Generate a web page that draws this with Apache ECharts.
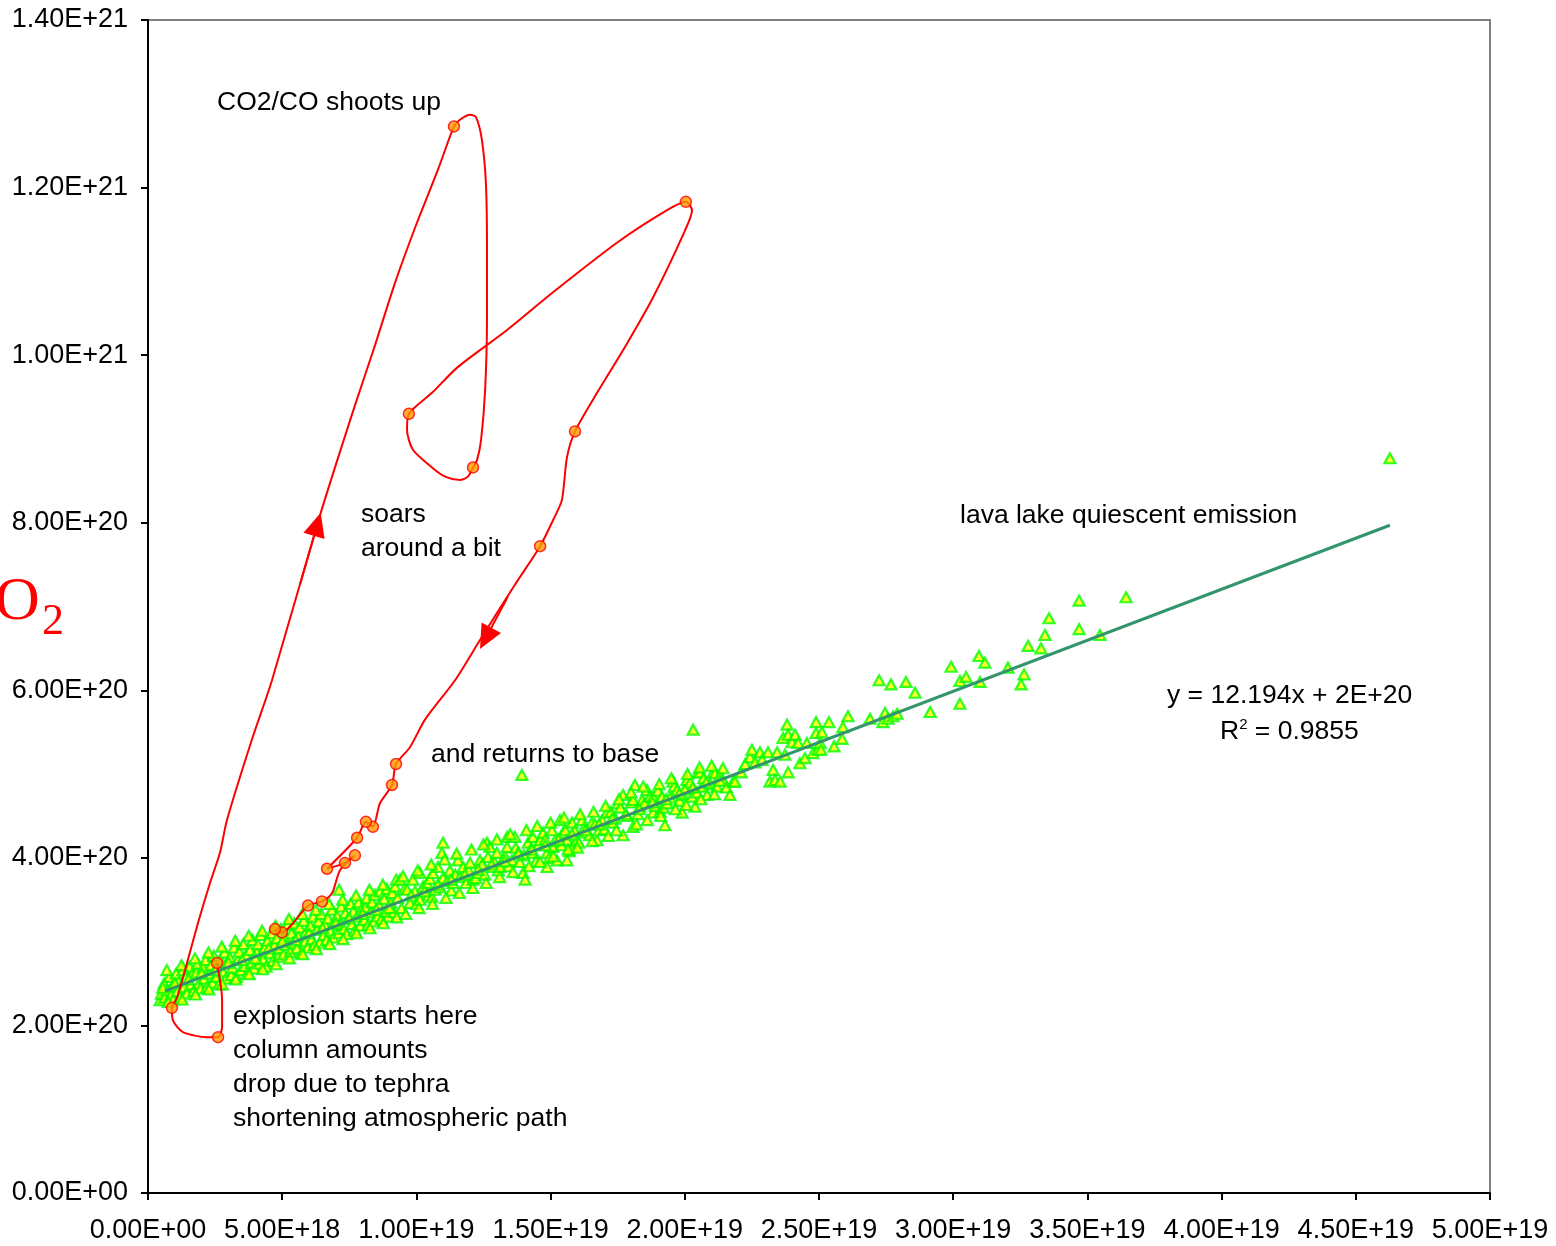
<!DOCTYPE html>
<html>
<head>
<meta charset="utf-8">
<script src="https://cdn.jsdelivr.net/npm/echarts@6/dist/echarts.min.js"></script>
<style>
  html, body { margin: 0; padding: 0; background: #fff; }
  #main { width: 1556px; height: 1246px; }
</style>
</head>
<body>
<div id="main"></div>
<script>
// x values in units of 1E+18, y values in units of 1E+20

// lava lake quiescent emission, dense part near the origin
var lavaLow = [
  [0.45, 2.30], [0.50, 2.38], [0.60, 2.50], [0.62, 2.33], [0.70, 2.42],
  [0.80, 2.58], [0.85, 2.36], [0.90, 2.47], [0.95, 2.31], [1.05, 2.62],
  [1.10, 2.41], [1.15, 2.52], [1.20, 2.34], [1.30, 2.66], [1.35, 2.46],
  [1.40, 2.57], [1.45, 2.38], [1.55, 2.70], [1.60, 2.49], [1.65, 2.61],
  [1.70, 2.41], [1.80, 2.63], [1.85, 2.74], [1.90, 2.50], [1.95, 2.44],
  [2.05, 2.69], [2.10, 2.56], [2.15, 2.78], [2.20, 2.46], [2.30, 2.62],
  [2.35, 2.72], [2.40, 2.51], [2.45, 2.83], [2.55, 2.58], [2.60, 2.70],
  [2.65, 2.49], [2.70, 2.79], [2.80, 2.64], [2.85, 2.87], [2.90, 2.56],
  [2.95, 2.74], [3.05, 2.81], [3.10, 2.60], [3.15, 2.69], [3.20, 2.93],
  [3.30, 2.58], [3.35, 2.78], [3.40, 2.88], [3.45, 2.66], [3.55, 2.97],
  [3.60, 2.71], [3.65, 2.84], [3.70, 2.62], [3.80, 2.90], [3.85, 2.75],
  [3.90, 3.02], [3.95, 2.68], [4.05, 2.87], [4.10, 2.97], [4.15, 2.74],
  [4.20, 3.08], [4.30, 2.79], [4.35, 2.93], [4.40, 2.70], [4.45, 3.01],
  [4.55, 2.86], [4.60, 3.10], [4.65, 2.77], [4.70, 2.96], [4.80, 3.04],
  [4.85, 2.82], [4.90, 2.92], [4.95, 3.15], [5.05, 2.85], [5.10, 3.05],
  [5.15, 2.96], [5.20, 3.20], [5.30, 2.88], [5.35, 3.10], [5.40, 2.99],
  [5.45, 3.22], [5.55, 2.92], [5.60, 3.06], [5.65, 3.17], [5.70, 2.86],
  [5.80, 3.25], [5.85, 3.00], [5.90, 3.12], [5.95, 2.93], [6.05, 3.19],
  [6.10, 3.03], [6.15, 3.30], [6.20, 2.96], [6.30, 3.14], [6.35, 3.24],
  [6.40, 2.99], [6.45, 3.33], [6.55, 3.08], [6.60, 3.20], [6.65, 3.02],
  [6.70, 3.28], [6.80, 3.13], [6.85, 3.38], [6.90, 3.05], [6.95, 3.24],
  [7.05, 3.31], [7.10, 3.10], [7.12, 3.62], [7.15, 3.20], [7.20, 3.42],
  [7.30, 3.15], [7.35, 3.34], [7.40, 3.09], [7.45, 3.27], [7.55, 3.45],
  [7.60, 3.21], [7.65, 3.36], [7.70, 3.13], [7.80, 3.30], [7.85, 3.47],
  [7.90, 3.19], [7.95, 3.38], [8.05, 3.26], [8.10, 3.41], [8.15, 3.52],
  [8.20, 3.20], [8.30, 3.35], [8.35, 3.47], [8.40, 3.24], [8.45, 3.56],
  [8.55, 3.30], [8.60, 3.44], [8.65, 3.60], [8.70, 3.27], [8.80, 3.51],
  [8.85, 3.36], [8.90, 3.63], [8.95, 3.30], [9.05, 3.46], [9.10, 3.58],
  [9.15, 3.35], [9.20, 3.66]
];

// more of the same band: its upper and lower edges and centre
var lavaLowEdge = [
  [0.70, 2.66], [0.75, 2.28], [1.25, 2.72], [1.27, 2.31], [1.75, 2.80],
  [1.77, 2.37], [2.25, 2.87], [2.27, 2.43], [2.75, 2.94], [2.77, 2.49],
  [3.25, 3.01], [3.27, 2.55], [3.75, 3.07], [3.77, 2.61], [4.25, 3.13],
  [4.27, 2.67], [4.75, 3.19], [4.77, 2.73], [5.25, 3.27], [5.27, 2.80],
  [5.75, 3.33], [5.77, 2.85], [6.25, 3.38], [6.27, 2.91], [6.75, 3.45],
  [6.77, 2.97], [7.25, 3.50], [7.27, 3.03], [7.75, 3.55], [7.77, 3.10],
  [8.25, 3.62], [8.27, 3.16], [8.75, 3.68], [8.77, 3.22], [9.25, 3.74],
  [9.27, 3.29], [0.55, 2.45], [1.00, 2.50], [1.50, 2.55], [2.00, 2.62],
  [2.50, 2.66], [3.00, 2.75], [3.50, 2.78], [4.00, 2.80], [4.50, 2.92],
  [5.00, 3.00], [5.50, 3.02], [6.00, 3.10], [6.50, 3.16], [7.00, 3.22],
  [7.50, 3.28], [8.00, 3.33], [8.50, 3.38], [9.00, 3.40]
];

// dense band, middle part
var lavaMid = [
  [9.30, 3.52], [9.39, 3.74], [9.45, 3.40], [9.55, 3.63], [9.65, 3.62],
  [9.76, 3.46], [9.87, 3.74], [9.95, 3.60], [10.00, 3.45], [10.13, 3.82],
  [10.13, 3.50], [10.25, 3.66], [10.39, 3.70], [10.45, 3.55], [10.50, 3.75],
  [10.58, 3.53], [10.62, 3.82], [10.70, 3.62], [10.80, 3.89], [10.88, 3.65],
  [10.95, 4.06], [10.99, 4.18], [10.99, 3.76], [11.15, 3.72], [11.25, 3.85],
  [11.30, 3.61], [11.36, 3.70], [11.45, 3.80], [11.55, 3.97], [11.62, 3.77],
  [11.74, 3.89], [11.85, 3.70], [11.95, 3.85], [12.00, 3.94], [12.11, 3.74],
  [12.20, 3.76], [12.30, 3.82], [12.37, 3.97], [12.45, 3.92], [12.55, 3.80],
  [12.63, 4.18], [12.67, 4.01], [12.74, 4.13], [12.85, 3.89], [12.90, 3.95],
  [13.00, 4.06], [13.05, 3.85], [13.11, 3.89], [13.23, 3.97], [13.30, 4.02],
  [13.38, 4.13], [13.38, 4.25], [13.45, 3.90], [13.56, 3.97], [13.67, 4.25],
  [13.70, 4.12], [13.79, 4.06], [13.85, 3.95], [13.93, 4.99], [13.97, 3.82],
  [14.00, 4.03], [14.05, 3.74], [14.16, 4.18], [14.25, 4.10], [14.34, 4.06],
  [14.34, 4.25], [14.45, 3.96], [14.55, 4.15], [14.61, 4.21], [14.72, 4.30],
  [14.80, 4.22], [14.87, 4.06], [14.87, 3.89], [14.95, 4.00], [15.05, 4.33],
  [15.09, 4.13], [15.15, 4.20], [15.24, 3.97], [15.35, 4.45], [15.40, 4.15],
  [15.46, 4.30], [15.55, 4.33], [15.61, 3.97], [15.61, 4.21], [15.70, 4.08],
  [15.80, 4.42], [15.83, 4.13], [15.90, 4.32], [15.98, 4.21], [16.05, 4.18],
  [16.17, 4.45], [16.25, 4.36], [16.36, 4.30], [16.45, 4.27], [16.54, 4.42],
  [16.65, 4.40], [16.73, 4.21], [16.80, 4.33], [16.92, 4.45], [17.00, 4.34],
  [17.10, 4.54], [17.25, 4.55], [17.32, 4.42], [17.40, 4.47], [17.51, 4.65],
  [17.60, 4.60], [17.70, 4.75], [17.70, 4.27], [17.85, 4.50], [18.00, 4.66],
  [18.07, 4.37], [18.07, 4.69], [18.14, 4.87], [18.25, 4.52], [18.33, 4.61],
  [18.41, 4.69], [18.50, 4.65], [18.59, 4.81], [18.70, 4.73], [18.82, 4.54],
  [18.82, 4.73], [18.90, 4.62], [19.00, 4.80], [19.08, 4.55], [19.15, 4.73],
  [19.20, 4.60], [19.26, 4.39], [19.34, 4.65], [19.45, 4.72], [19.56, 4.91],
  [19.60, 4.85], [19.71, 4.81], [19.80, 4.68], [19.90, 4.54], [19.93, 4.75],
  [20.00, 4.82], [20.08, 4.93], [20.20, 4.90], [20.27, 4.73], [20.31, 5.53],
  [20.38, 4.61], [20.45, 4.78], [20.49, 5.02], [20.57, 5.02], [20.64, 4.85],
  [20.70, 4.95], [20.83, 4.75], [20.95, 4.88], [21.05, 5.02], [21.13, 5.01],
  [21.20, 4.85], [21.30, 4.98], [21.42, 4.93], [21.42, 5.07], [21.55, 4.84],
  [21.68, 4.75], [21.80, 4.91], [21.87, 4.91]
];

// more of the middle band: edges and centre
var lavaMidEdge = [
  [9.50, 3.78], [9.60, 3.33], [10.05, 3.85], [10.10, 3.40], [10.55, 3.92],
  [10.60, 3.45], [11.05, 3.98], [11.10, 3.52], [11.50, 4.05], [11.60, 3.58],
  [12.05, 4.10], [12.10, 3.64], [12.50, 4.16], [12.60, 3.70], [13.00, 4.22],
  [13.10, 3.77], [13.50, 4.28], [13.60, 3.83], [14.10, 4.33], [14.20, 3.90],
  [14.50, 4.38], [14.60, 3.95], [15.00, 4.42], [15.10, 4.02], [15.50, 4.48],
  [15.65, 4.10], [16.10, 4.52], [16.00, 4.12], [16.60, 4.55], [16.55, 4.20],
  [17.05, 4.62], [17.15, 4.26], [17.55, 4.70], [17.45, 4.33], [18.00, 4.78],
  [18.20, 4.40], [18.45, 4.85], [18.60, 4.45], [19.05, 4.88], [19.10, 4.50],
  [19.50, 4.95], [19.65, 4.58], [20.10, 5.00], [20.05, 4.63], [20.55, 5.08],
  [20.60, 4.70], [21.00, 5.10], [21.10, 4.76], [9.80, 3.55], [10.30, 3.60],
  [10.80, 3.68], [11.30, 3.74], [11.80, 3.80], [12.30, 3.86], [12.80, 3.92],
  [13.30, 3.96], [13.80, 4.05], [14.30, 4.10], [14.80, 4.15], [15.30, 4.22],
  [15.80, 4.28], [16.30, 4.33], [16.80, 4.40], [17.30, 4.47], [17.80, 4.52],
  [18.30, 4.58], [18.80, 4.66], [19.30, 4.70], [19.80, 4.77], [20.30, 4.84],
  [20.80, 4.90], [21.30, 4.92]
];

// scattered points further out
var lavaHigh = [
  [22.10, 5.02], [22.25, 5.12], [22.43, 5.20], [22.50, 5.29], [22.62, 5.14],
  [22.80, 5.26], [22.88, 5.17], [23.10, 5.26], [23.17, 4.91], [23.29, 5.05],
  [23.36, 4.93], [23.44, 5.26], [23.55, 4.91], [23.66, 5.43], [23.73, 5.23],
  [23.81, 5.59], [23.85, 5.47], [23.85, 5.02], [23.99, 5.38], [24.11, 5.47],
  [24.22, 5.37], [24.29, 5.13], [24.48, 5.19], [24.55, 5.37], [24.78, 5.25],
  [24.89, 5.62], [24.89, 5.49], [24.96, 5.29], [25.04, 5.37], [25.07, 5.29],
  [25.11, 5.50], [25.37, 5.62], [25.56, 5.33], [25.86, 5.42], [25.89, 5.56],
  [26.08, 5.69], [26.90, 5.66], [27.24, 6.12], [27.38, 5.62], [27.46, 5.73],
  [27.57, 5.66], [27.68, 6.07], [27.76, 5.69], [27.91, 5.72], [28.24, 6.10],
  [28.58, 5.97], [29.14, 5.74], [29.92, 6.28], [30.25, 6.11], [30.25, 5.84],
  [30.48, 6.16], [30.96, 6.41], [31.00, 6.10], [31.18, 6.33], [32.04, 6.27],
  [32.53, 6.07], [32.64, 6.19], [32.79, 6.53], [33.27, 6.50], [33.42, 6.66],
  [33.57, 6.86], [34.69, 7.07], [34.69, 6.73], [35.47, 6.66], [36.44, 7.11],
  [46.27, 8.77]
];

// linear fit, drawn between its two ends
var trendX = [0.63, 46.27];
var trendY = [2.41, 7.97];

// red path of the explosion
var pathX = [2.57, 2.76, 2.76, 2.61, 2.20, 1.30, 0.93, 0.89, 1.08, 1.38,
  1.86, 2.31, 2.68, 2.94, 3.87, 4.62, 6.41, 7.71, 8.46, 9.20,
  10.02, 10.80, 11.40, 11.62, 12.00, 12.22, 12.44, 12.59, 12.63, 12.63,
  12.56, 12.41, 12.26, 12.11, 11.92, 11.62, 11.07, 10.58, 9.87, 9.65,
  9.72, 10.58, 11.55, 13.38, 15.09, 17.51, 19.34, 20.04, 20.27, 20.01,
  18.82, 17.85, 16.73, 15.91, 15.61, 15.42, 15.09, 14.61, 13.67, 12.37,
  11.44, 10.32, 9.76, 9.24, 9.09, 8.64, 8.38, 8.12, 7.79, 6.67,
  7.34, 7.71, 7.15, 6.86, 6.48, 5.96, 4.99, 4.73];
var pathY = [2.745, 2.30, 1.98, 1.86, 1.86, 1.92, 2.06, 2.21, 2.33, 2.66,
  3.22, 3.70, 4.06, 4.45, 5.41, 6.12, 8.09, 9.40, 10.12, 10.86,
  11.58, 12.21, 12.73, 12.81, 12.87, 12.84, 12.57, 12.05, 11.25, 10.45,
  9.58, 8.99, 8.75, 8.66, 8.55, 8.51, 8.55, 8.66, 8.87, 9.11,
  9.30, 9.55, 9.86, 10.30, 10.75, 11.35, 11.73, 11.83, 11.73, 11.49,
  10.69, 10.14, 9.55, 9.09, 8.78, 8.27, 8.03, 7.72, 7.26, 6.60,
  6.12, 5.65, 5.32, 5.12, 4.87, 4.65, 4.37, 4.43, 4.24, 3.87,
  3.94, 4.03, 3.85, 3.58, 3.48, 3.43, 3.11, 3.15];

// orange markers on the path
var markX = [2.57, 2.61, 0.89, 11.40, 12.11, 9.72, 20.04, 15.91, 14.61, 9.24,
  9.09, 8.38, 8.12, 7.79, 7.71, 7.34, 6.67, 6.48, 5.96, 4.99, 4.73];
var markY = [2.745, 1.86, 2.21, 12.73, 8.66, 9.30, 11.83, 9.09, 7.72, 5.12,
  4.87, 4.37, 4.43, 4.24, 4.03, 3.94, 3.87, 3.48, 3.43, 3.11, 3.15];

// direction arrows: [from, to]
var arrows = [
  [[5.66, 7.26], [6.31, 7.98]],
  [[13.41, 7.12], [12.58, 6.62]]
];

var font = "'Liberation Sans', Arial, sans-serif";
var noteFont = "26.5px " + font;

function fmtE(v) {
  var s = v.toExponential(2).toUpperCase().split("E");
  var exp = s[1];
  var sign = exp.charAt(0);
  var digits = exp.slice(1);
  if (digits.length < 2) digits = "0" + digits;
  return s[0] + "E" + sign + digits;
}

function zip(xs, ys) {
  return xs.map(function (x, i) { return [x, ys[i]]; });
}

var chartDom = document.getElementById("main");
var myChart = echarts.init(chartDom);
var option;

option = {
  animation: false,
  backgroundColor: "#fff",
  grid: {
    left: 148,
    right: 66,
    top: 20,
    bottom: 53,
    show: true,
    borderColor: "#808080",
    borderWidth: 2
  },
  xAxis: {
    type: "value",
    min: 0,
    max: 50,
    interval: 5,
    axisLine: { lineStyle: { color: "#000", width: 2 } },
    axisTick: { length: 7, lineStyle: { color: "#000", width: 2 } },
    splitLine: { show: false },
    axisLabel: {
      margin: 24,
      color: "#000",
      fontSize: 27,
      fontFamily: font,
      formatter: function (v) { return fmtE(v * 1e18); }
    }
  },
  yAxis: {
    type: "value",
    min: 0,
    max: 14,
    interval: 2,
    axisLine: { lineStyle: { color: "#000", width: 2 } },
    axisTick: { length: 7, lineStyle: { color: "#000", width: 2 } },
    splitLine: { show: false },
    axisLabel: {
      margin: 20,
      color: "#000",
      fontSize: 27,
      fontFamily: font,
      formatter: function (v) { return fmtE(v * 1e20); }
    }
  },
  series: [
    {
      name: "lava lake",
      type: "scatter",
      symbol: "triangle",
      symbolSize: [11, 10],
      itemStyle: { color: "#FFFF00", borderColor: "#00FF00", borderWidth: 2.2 },
      data: lavaLow.concat(lavaLowEdge, lavaMid, lavaMidEdge, lavaHigh),
      z: 2
    },
    {
      name: "trend",
      type: "line",
      showSymbol: false,
      lineStyle: { color: "#33956b", width: 3 },
      data: zip(trendX, trendY),
      z: 3
    },
    {
      name: "explosion",
      type: "line",
      smooth: 0.25,
      showSymbol: false,
      lineStyle: { color: "#FF0000", width: 2 },
      data: zip(pathX, pathY),
      markLine: {
        silent: true,
        symbol: ["none", "triangle"],
        symbolSize: [22, 24],
        label: { show: false },
        lineStyle: { color: "#FF0000", width: 2, type: "solid" },
        data: arrows.map(function (a) {
          return [{ coord: a[0] }, { coord: a[1] }];
        })
      },
      z: 4
    },
    {
      name: "markers",
      type: "scatter",
      symbol: "circle",
      symbolSize: 11,
      itemStyle: { color: "#FF9900", borderColor: "#FF0000", borderWidth: 1.5 },
      data: zip(markX, markY),
      z: 5
    }
  ],
  graphic: [
    { type: "text", left: 217, top: 89, style: { text: "CO2/CO shoots up", font: noteFont, fill: "#000" } },
    { type: "text", left: 361, top: 498, style: { text: "soars\naround a bit", font: noteFont, lineHeight: 34, fill: "#000" } },
    { type: "text", left: 431, top: 741, style: { text: "and returns to base", font: noteFont, fill: "#000" } },
    { type: "text", left: 960, top: 502, style: { text: "lava lake quiescent emission", font: noteFont, fill: "#000" } },
    { type: "text", left: 1167, top: 682, style: { text: "y = 12.194x + 2E+20", font: noteFont, fill: "#000" } },
    {
      type: "text", left: 1220, top: 717,
      style: {
        text: "{a|R}{b|2}{a| = 0.9855}",
        rich: {
          a: { fontSize: 26.5, fontFamily: font, lineHeight: 30, color: "#000" },
          b: { fontSize: 15, fontFamily: font, lineHeight: 30, verticalAlign: "top", color: "#000" }
        }
      }
    },
    {
      type: "text", left: 233, top: 1000,
      style: {
        text: "explosion starts here\ncolumn amounts\ndrop due to tephra\nshortening atmospheric path",
        font: noteFont, lineHeight: 34, fill: "#000"
      }
    },
    { type: "text", left: -5, top: 572, style: { text: "O", font: "62px 'Liberation Serif', 'Times New Roman', serif", fill: "#FF0000" } },
    { type: "text", left: 42, top: 600, style: { text: "2", font: "44px 'Liberation Serif', 'Times New Roman', serif", fill: "#FF0000" } }
  ]
};

option && myChart.setOption(option);
</script>
</body>
</html>
